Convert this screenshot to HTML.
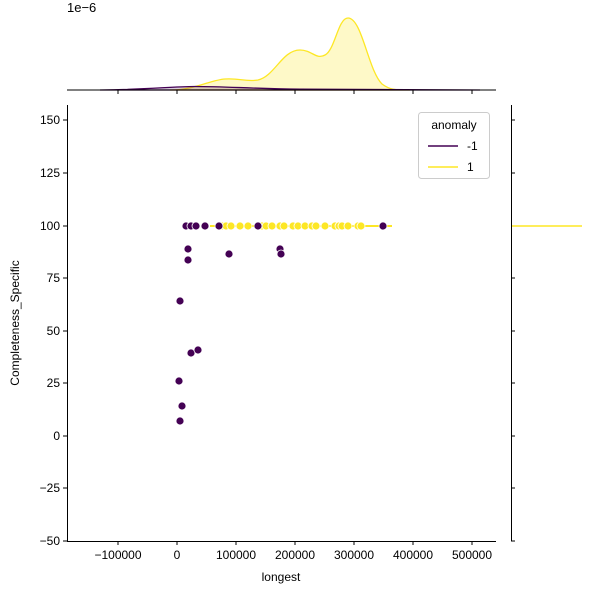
<!DOCTYPE html>
<html><head><style>body{margin:0;background:#fff}svg{font-family:"Liberation Sans","DejaVu Sans",sans-serif}</style></head><body>
<svg width="600" height="600" viewBox="0 0 600 600" xmlns="http://www.w3.org/2000/svg">
<text x="67" y="12" font-size="13">1e−6</text>
<path d="M170,90 C195,90 210,80 225,79 C240,78 245,82 258,80 C275,76 282,50 300,50 C312,50 316,60 325,55 C335,50 338,18 348,18 C362,18 368,70 382,84 C390,90 395,90 410,90 Z" fill="#fde725" fill-opacity="0.25" stroke="#fde725" stroke-width="1.3"/>
<path d="M100,90 C150,89.5 170,86.5 195,86.5 C225,86.5 250,88.5 300,89.2 C380,89.7 440,90 480,90 Z" fill="#440154" fill-opacity="0.2" stroke="#440154" stroke-width="1.3"/>
<line x1="67" y1="90" x2="496" y2="90" stroke="#000" stroke-width="1"/>
<g stroke="#000"><line x1="118" y1="90" x2="118" y2="94"/><line x1="177" y1="90" x2="177" y2="94"/><line x1="236" y1="90" x2="236" y2="94"/><line x1="295" y1="90" x2="295" y2="94"/><line x1="354" y1="90" x2="354" y2="94"/><line x1="413" y1="90" x2="413" y2="94"/><line x1="472" y1="90" x2="472" y2="94"/></g>
<line x1="511.5" y1="105" x2="511.5" y2="541" stroke="#000"/>
<g stroke="#000"><line x1="511" y1="120" x2="515" y2="120"/><line x1="511" y1="173" x2="515" y2="173"/><line x1="511" y1="226" x2="515" y2="226"/><line x1="511" y1="278" x2="515" y2="278"/><line x1="511" y1="331" x2="515" y2="331"/><line x1="511" y1="383" x2="515" y2="383"/><line x1="511" y1="436" x2="515" y2="436"/><line x1="511" y1="488" x2="515" y2="488"/><line x1="511" y1="541" x2="515" y2="541"/></g>
<line x1="512" y1="226" x2="582" y2="226" stroke="#fde725" stroke-width="1.5"/>
<line x1="210" y1="226" x2="392" y2="226" stroke="#fde725" stroke-width="2"/>
<g fill="#fde725" stroke="#fff" stroke-width="0.8">
<circle cx="222" cy="226" r="4"/><circle cx="226" cy="226" r="4"/><circle cx="231" cy="226" r="4"/><circle cx="240" cy="226" r="4"/><circle cx="248" cy="226" r="4"/><circle cx="262" cy="226" r="4"/><circle cx="266" cy="226" r="4"/><circle cx="272" cy="226" r="4"/><circle cx="280" cy="226" r="4"/><circle cx="284" cy="226" r="4"/><circle cx="293" cy="226" r="4"/><circle cx="298" cy="226" r="4"/><circle cx="305" cy="226" r="4"/><circle cx="312" cy="226" r="4"/><circle cx="316" cy="226" r="4"/><circle cx="325" cy="226" r="4"/><circle cx="335" cy="226" r="4"/><circle cx="339" cy="226" r="4"/><circle cx="342" cy="226" r="4"/><circle cx="348" cy="226" r="4"/><circle cx="358" cy="226" r="4"/><circle cx="361" cy="226" r="4"/>
</g>
<g fill="#440154" stroke="#fff" stroke-width="0.8">
<circle cx="186" cy="226" r="4"/><circle cx="191" cy="226" r="4"/><circle cx="196" cy="226" r="4"/><circle cx="205" cy="226" r="4"/><circle cx="219" cy="226" r="4"/><circle cx="258" cy="226" r="4"/><circle cx="383" cy="226" r="4"/>
<circle cx="188" cy="249" r="4"/><circle cx="188" cy="260" r="4"/><circle cx="229" cy="254" r="4"/><circle cx="280" cy="249" r="4"/><circle cx="281" cy="254" r="4"/><circle cx="180" cy="301" r="4"/><circle cx="191" cy="353" r="4"/><circle cx="198" cy="350" r="4"/><circle cx="179" cy="381" r="4"/><circle cx="182" cy="406" r="4"/><circle cx="180" cy="421" r="4"/>
</g>
<line x1="67.5" y1="105" x2="67.5" y2="541" stroke="#000"/>
<line x1="67" y1="541.5" x2="496" y2="541.5" stroke="#000"/>
<g stroke="#000"><line x1="63" y1="120" x2="67" y2="120"/><line x1="63" y1="173" x2="67" y2="173"/><line x1="63" y1="226" x2="67" y2="226"/><line x1="63" y1="278" x2="67" y2="278"/><line x1="63" y1="331" x2="67" y2="331"/><line x1="63" y1="383" x2="67" y2="383"/><line x1="63" y1="436" x2="67" y2="436"/><line x1="63" y1="488" x2="67" y2="488"/><line x1="63" y1="541" x2="67" y2="541"/>
<line x1="118" y1="541" x2="118" y2="545"/><line x1="177" y1="541" x2="177" y2="545"/><line x1="236" y1="541" x2="236" y2="545"/><line x1="295" y1="541" x2="295" y2="545"/><line x1="354" y1="541" x2="354" y2="545"/><line x1="413" y1="541" x2="413" y2="545"/><line x1="472" y1="541" x2="472" y2="545"/></g>
<g font-size="12" text-anchor="end"><text x="60" y="124">150</text><text x="60" y="177">125</text><text x="60" y="230">100</text><text x="60" y="282">75</text><text x="60" y="335">50</text><text x="60" y="387">25</text><text x="60" y="440">0</text><text x="60" y="492">−25</text><text x="60" y="545">−50</text></g>
<g font-size="12" text-anchor="middle"><text x="118" y="559">−100000</text><text x="177" y="559">0</text><text x="236" y="559">100000</text><text x="295" y="559">200000</text><text x="354" y="559">300000</text><text x="413" y="559">400000</text><text x="472" y="559">500000</text></g>
<text x="281" y="581" font-size="12" text-anchor="middle">longest</text>
<text transform="translate(19,323) rotate(-90)" font-size="12" text-anchor="middle">Completeness_Specific</text>
<rect x="418.5" y="112.5" width="71" height="66" rx="3" fill="#fff" fill-opacity="0.8" stroke="#ccc"/>
<text x="454" y="129" font-size="12" text-anchor="middle">anomaly</text>
<line x1="428" y1="146" x2="458" y2="146" stroke="#440154" stroke-width="1.5"/><text x="467" y="150" font-size="12">-1</text>
<line x1="428" y1="167" x2="458" y2="167" stroke="#fde725" stroke-width="1.5"/><text x="467" y="171" font-size="12">1</text>
</svg>
</body></html>
